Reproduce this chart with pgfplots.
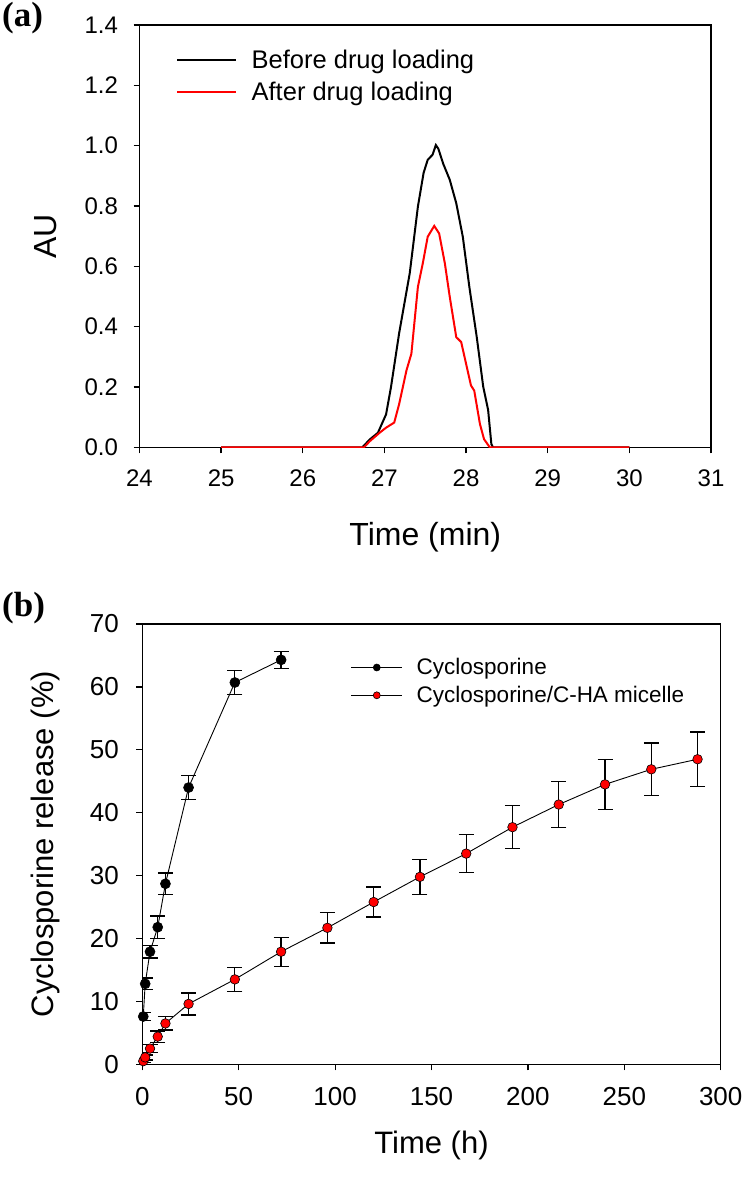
\documentclass[border=0pt]{standalone}
\usepackage{fontspec}
\setmainfont{Liberation Sans}
\newfontfamily\tnr{Liberation Serif}
\usepackage{pgfplots}
\pgfplotsset{compat=1.18}
\begin{document}
\begin{tikzpicture}
\path[use as bounding box] (0pt,0pt) rectangle (748pt,-1177pt);
\node[font=\tnr\bfseries\fontsize{35}{38}\selectfont, anchor=west, inner sep=0pt] at (2pt,-18pt) {(a)};
\node[font=\tnr\bfseries\fontsize{35}{38}\selectfont, anchor=west, inner sep=0pt] at (2pt,-608pt) {(b)};
\begin{axis}[
  at={(139.5pt,-25pt)}, anchor=north west, scale only axis,
  width=571.5pt, height=422.3pt,
  xmin=24, xmax=31, ymin=0, ymax=1.4,
  xtick={24,25,26,27,28,29,30,31},
  ytick={0,0.2,0.4,0.6,0.8,1.0,1.2,1.4},
  /pgf/number format/assume math mode=true,
  tick align=outside, xtick pos=bottom, ytick pos=left, major tick length=6pt,
  axis line style={line width=1.4pt},
  every tick/.style={line width=1.4pt, black},
  tick label style={font=\fontsize{24}{28}\selectfont},
  yticklabel style={xshift=-12pt, /pgf/number format/.cd, fixed, fixed zerofill, precision=1},
  xticklabel style={yshift=-13pt},
  xlabel={Time (min)}, ylabel={AU},
  label style={font=\fontsize{32}{38}\selectfont},
  xlabel style={at={(axis description cs:0.5,-0.212)}, anchor=center},
  ylabel style={at={(axis description cs:-0.165,0.5)}, anchor=center},
  legend style={draw=none, fill=none, at={(axis description cs:0.0585,0.951)}, anchor=north west,
    font=\fontsize{25.5}{30}\selectfont, row sep=8pt,
    /tikz/every odd column/.append style={column sep=12.5pt}},
  legend cell align=left,
  legend image code/.code={\draw[#1] (0pt,0pt) -- (59pt,0pt);},
]
\addplot[black, line width=2pt] coordinates {
(25,0) (26.73,0) (26.82,0.026) (26.92,0.048) (27.02,0.109) (27.08,0.199) (27.18,0.378)
(27.31,0.577) (27.41,0.798) (27.48,0.91) (27.53,0.953) (27.59,0.970) (27.63,1.002) (27.66,0.99)
(27.72,0.94) (27.80,0.887) (27.88,0.809) (27.96,0.698) (28.04,0.532) (28.13,0.367)
(28.21,0.201) (28.27,0.124) (28.31,0.01) (28.33,0) (30,0)
};
\addlegendentry{Before drug loading}
\addplot[red, line width=2pt] coordinates {
(25,0) (26.75,0) (26.82,0.02) (26.94,0.048) (27.02,0.065) (27.12,0.082) (27.18,0.143)
(27.27,0.255) (27.33,0.31) (27.41,0.532) (27.47,0.61) (27.53,0.698) (27.61,0.734)
(27.67,0.709) (27.74,0.61) (27.80,0.499) (27.88,0.365) (27.94,0.349) (28.00,0.277)
(28.06,0.205) (28.10,0.188) (28.17,0.077) (28.22,0.027) (28.29,0) (30,0)
};
\addlegendentry{After drug loading}
\end{axis}

\begin{axis}[
  at={(142.3pt,-624pt)}, anchor=north west, scale only axis,
  width=578.4pt, height=440.3pt,
  xmin=0, xmax=300, ymin=0, ymax=70,
  xtick={0,50,100,150,200,250,300},
  ytick={0,10,20,30,40,50,60,70},
  /pgf/number format/assume math mode=true,
  tick align=outside, xtick pos=bottom, ytick pos=left, major tick length=6pt,
  axis line style={line width=1.2pt},
  every tick/.style={line width=1.2pt, black},
  tick label style={font=\fontsize{26}{30}\selectfont},
  yticklabel style={xshift=-14pt},
  xticklabel style={yshift=-13pt},
  xlabel={Time (h)}, ylabel={Cyclosporine release (\%)},
  label style={font=\fontsize{31}{36}\selectfont},
  xlabel style={at={(axis description cs:0.5,-0.185)}, anchor=center},
  ylabel style={at={(axis description cs:-0.168,0.5)}, anchor=center},
  legend style={draw=none, fill=none, at={(axis description cs:0.355,0.931)}, anchor=north west,
    font=\fontsize{22.5}{26}\selectfont, row sep=6pt,
    /tikz/every odd column/.append style={column sep=12pt}},
  legend cell align=left,
  legend image code/.code={\draw[mark repeat=2, mark phase=2, #1, mark size=3.5pt] plot coordinates {(0pt,0pt) (25.5pt,0pt) (51pt,0pt)};},
]
\addplot[black, line width=0.9pt, mark=*, mark size=5pt,
  mark options={fill=black, draw=black, line width=0.6pt},
  error bars/.cd, y dir=both, y explicit,
  error bar style={line width=1.3pt, black},
  error mark options={rotate=90, mark size=7.5pt, line width=1.3pt, black}]
  table[x=t, y=v, y error=e] {
t v e
0.5 7.6 0.6
1.5 12.8 0.9
4 17.9 1.0
8 21.8 1.8
12 28.7 1.7
24 44.0 1.9
48 60.7 1.95
72 64.3 1.35
};
\addlegendentry{Cyclosporine}
\addplot[black, line width=0.9pt, mark=*, mark size=4.8pt,
  mark options={fill=red, draw=black, line width=0.6pt},
  error bars/.cd, y dir=both, y explicit,
  error bar style={line width=1.3pt, black},
  error mark options={rotate=90, mark size=7.5pt, line width=1.3pt, black}]
  table[x=t, y=v, y error=e] {
t v e
0.5 0.5 0.2
1.5 1.1 0.4
4 2.5 0.6
8 4.4 0.9
12 6.5 1.06
24 9.6 1.75
48 13.5 1.9
72 17.9 2.3
96 21.7 2.4
120 25.8 2.4
144 29.8 2.8
168 33.5 3.0
192 37.7 3.4
216 41.3 3.7
240 44.5 4.0
264 46.9 4.2
288 48.5 4.35
};
\addlegendentry{Cyclosporine/C-HA micelle}
\end{axis}
\end{tikzpicture}
\end{document}
